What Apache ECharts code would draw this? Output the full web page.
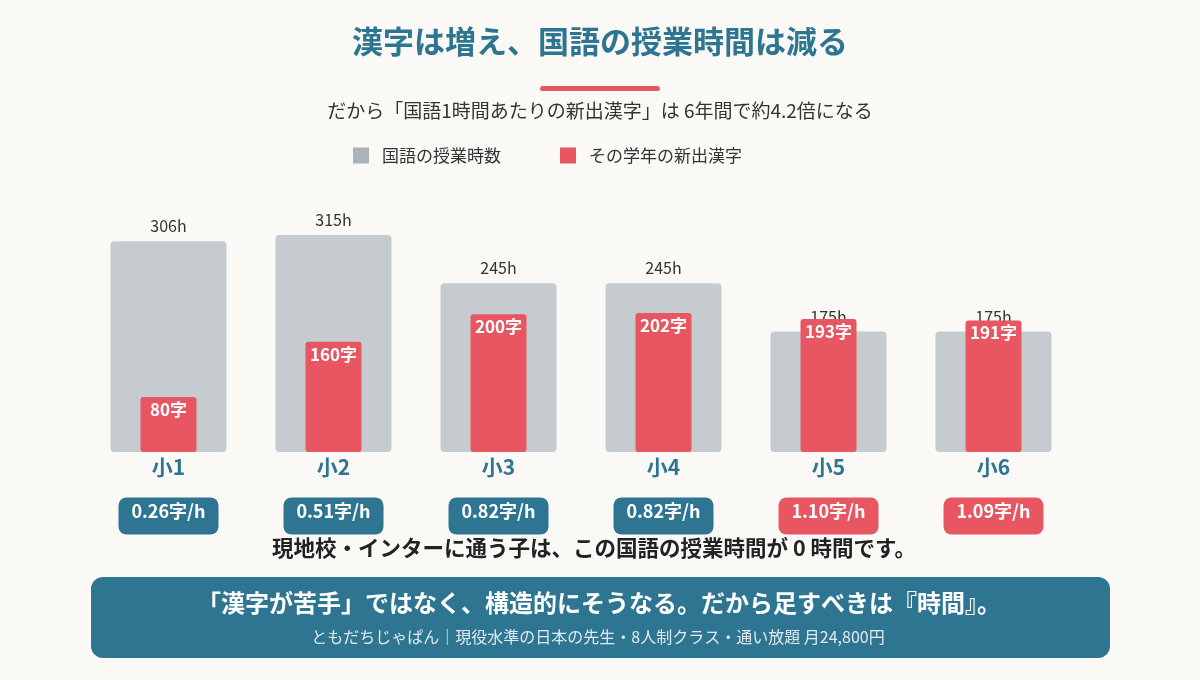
<!DOCTYPE html>
<html>
<head>
<meta charset="utf-8">
<script src="https://cdn.jsdelivr.net/npm/echarts@6/dist/echarts.min.js"></script>
<style>
  html, body { margin: 0; padding: 0; background: #faf9f6; }
  #main { width: 1200px; height: 680px; }
</style>
</head>
<body>
<div id="main"></div>
<script>
// データ
var grades = ['小1', '小2', '小3', '小4', '小5', '小6'];
var hours = [306, 315, 245, 245, 175, 175];          // 国語の授業時数
var kanji = [80, 160, 200, 202, 193, 191];           // その学年の新出漢字
var ratePerHour = ['0.26', '0.51', '0.82', '0.82', '1.10', '1.09'];

var TEAL = '#2e7591';
var RED = '#e85661';
var GRAY = '#c5cbce';
var FONT = '"Noto Sans CJK JP", "Noto Sans", sans-serif';

(function () {
  var myChart = echarts.init(document.getElementById('main'));

  // バッジ（字/h）のスタイル
  function badge(bg) {
    return {
      width: 100, align: 'center', backgroundColor: bg, borderRadius: 8,
      color: '#fff', fontSize: 18, fontWeight: 'bold', lineHeight: 22,
      padding: [5, 0, 14, 0], fontFamily: FONT
    };
  }

  var option = {
    backgroundColor: '#faf9f6',
    textStyle: { fontFamily: FONT },
    legend: {
      left: 348,
      top: 142,
      itemWidth: 16,
      itemHeight: 16,
      itemGap: 59,
      icon: 'rect',
      textStyle: { fontSize: 17, color: '#333', fontFamily: FONT, padding: [0, 0, 0, 8] },
      data: [
        { name: '国語の授業時数', itemStyle: { color: '#aab3b8' } },
        { name: 'その学年の新出漢字' }
      ]
    },
    grid: {
      left: 86,
      right: 124,
      top: 211,
      bottom: 228
    },
    xAxis: [
      {
        type: 'category',
        data: grades,
        axisLine: { show: false },
        axisTick: { show: false },
        axisLabel: {
          margin: 3,
          interval: 0,
          fontSize: 21,
          lineHeight: 24,
          fontWeight: 'bold',
          color: TEAL
        }
      },
      {
        type: 'category',
        data: grades,
        position: 'bottom',
        axisLine: { show: false },
        axisTick: { show: false },
        axisLabel: {
          margin: 53,
          interval: 0,
          formatter: function (value, idx) {
            var key = parseFloat(ratePerHour[idx]) >= 1 ? 'red' : 'teal';
            return '{' + key + '|' + ratePerHour[idx] + '字/h}';
          },
          rich: {
            teal: badge(TEAL),
            red: badge(RED)
          }
        }
      }
    ],
    yAxis: {
      type: 'value',
      min: 0,
      max: 350,
      show: false
    },
    series: [
      {
        name: '国語の授業時数',
        type: 'bar',
        xAxisIndex: 0,
        data: hours,
        barWidth: 116,
        z: 1,
        itemStyle: { color: GRAY, borderRadius: 4 },
        label: {
          show: true,
          position: 'top',
          distance: 7,
          fontSize: 16,
          color: '#333',
          formatter: '{c}h'
        }
      },
      {
        name: 'その学年の新出漢字',
        type: 'bar',
        xAxisIndex: 1,
        data: kanji,
        barWidth: 56,
        z: 3,
        itemStyle: { color: RED, borderRadius: 3 },
        label: {
          show: true,
          position: 'insideTop',
          distance: 4,
          fontSize: 17,
          fontWeight: 'bold',
          color: '#fff',
          formatter: '{c}字'
        }
      }
    ],
    graphic: [
      {
        type: 'text', x: 600, y: 41,
        style: { text: '漢字は増え、国語の授業時間は減る', fill: TEAL, font: 'bold 31px ' + FONT, align: 'center', verticalAlign: 'middle' }
      },
      {
        type: 'rect', shape: { x: 540, y: 86, width: 120, height: 5, r: 2.5 },
        style: { fill: RED }
      },
      {
        type: 'text', x: 600, y: 111,
        style: { text: 'だから「国語1時間あたりの新出漢字」は 6年間で約4.2倍になる', fill: '#333', font: '19px ' + FONT, align: 'center', verticalAlign: 'middle' }
      },
      {
        type: 'text', x: 594, y: 548,
        style: { text: '現地校・インターに通う子は、この国語の授業時間が 0 時間です。', fill: '#222', font: 'bold 21.5px ' + FONT, align: 'center', verticalAlign: 'middle' }
      },
      {
        type: 'rect', shape: { x: 91, y: 577, width: 1019, height: 81, r: 12 },
        style: { fill: TEAL }
      },
      {
        type: 'text', x: 599, y: 603,
        style: { text: '「漢字が苦手」ではなく、構造的にそうなる。だから足すべきは『時間』。', fill: '#fff', font: 'bold 24px ' + FONT, align: 'center', verticalAlign: 'middle' }
      },
      {
        type: 'text', x: 598, y: 637,
        style: { text: 'ともだちじゃぱん｜現役水準の日本の先生・8人制クラス・通い放題 月24,800円', fill: 'rgba(255,255,255,0.85)', font: '16px ' + FONT, align: 'center', verticalAlign: 'middle' }
      }
    ]
  };

  myChart.setOption(option);
  window.addEventListener('resize', function () {
    myChart.resize();
  });
})();
</script>
</body>
</html>
